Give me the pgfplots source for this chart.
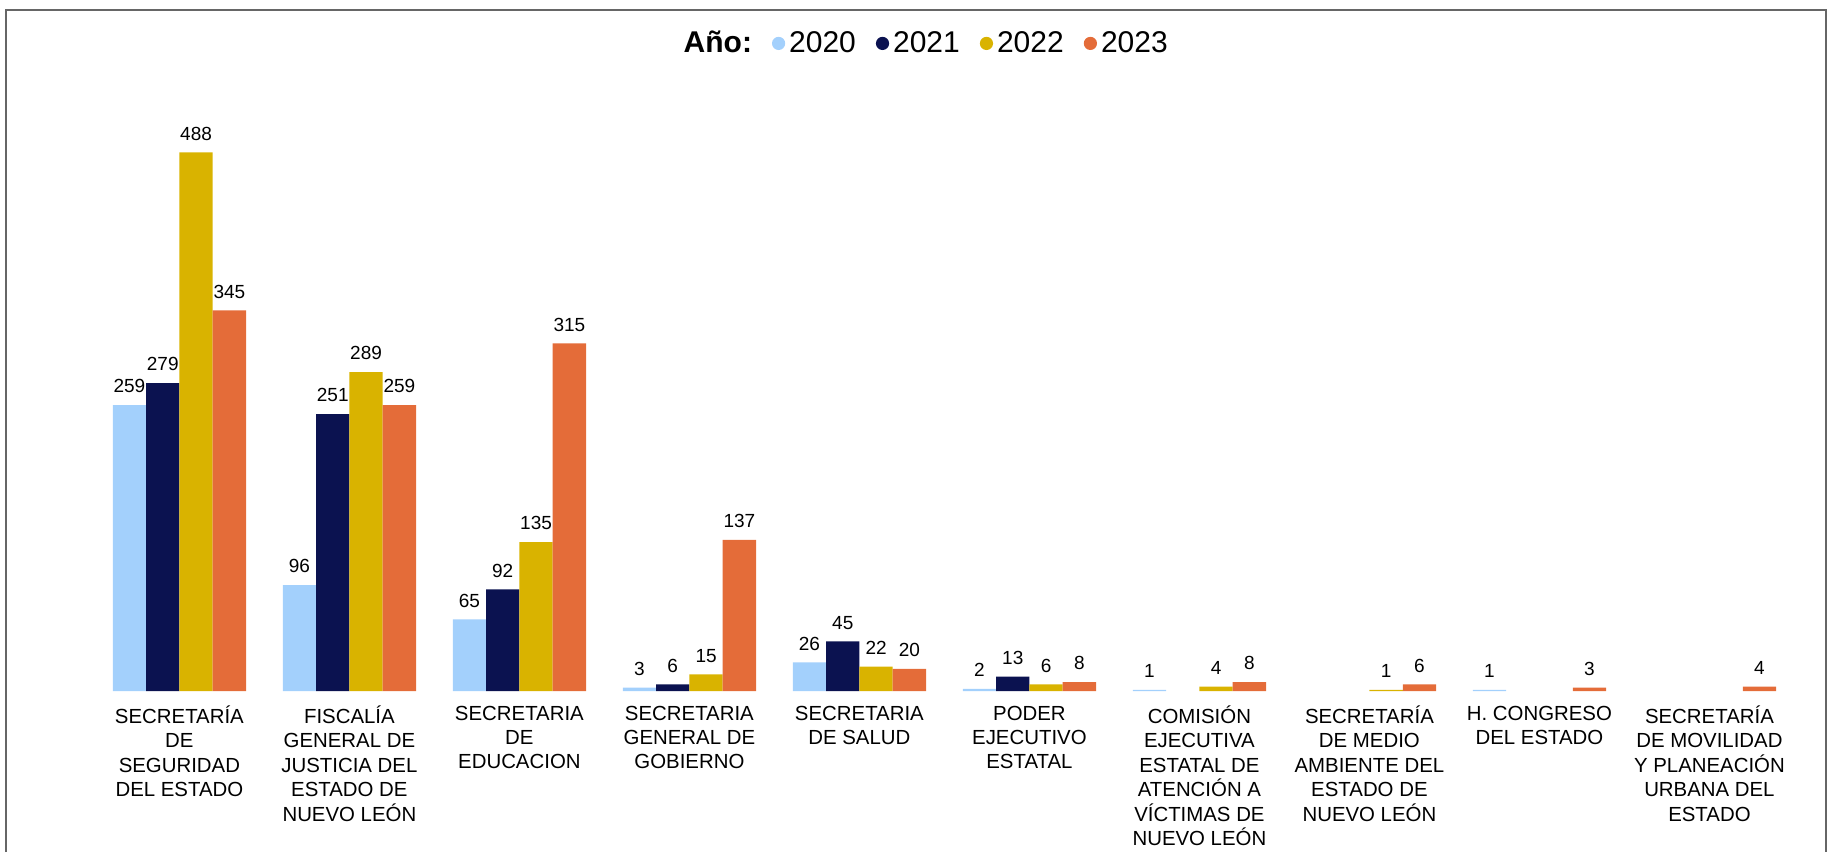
\documentclass[border=0pt]{standalone}
\usepackage{pgfplots}
\pgfplotsset{compat=1.18}
\usepackage{fontspec}
\setmainfont{Liberation Sans}

\definecolor{c2020}{HTML}{A3D0FC}
\definecolor{c2021}{HTML}{0B1250}
\definecolor{c2022}{HTML}{D9B300}
\definecolor{c2023}{HTML}{E46C39}

\pgfplotsset{dotlegend/.style={legend image code/.code={\fill[##1] (0pt,0pt) circle (3.3pt);}}}

\begin{document}
\begin{tikzpicture}
\useasboundingbox (0,0) rectangle (919.5pt,426pt);
\begin{axis}[
  at={(47.2pt,80.5pt)}, anchor=south west,
  scale only axis, width=850pt, height=275.9pt,
  ybar=0pt, bar width=0.196,
  xmin=-0.5, xmax=9.5, ymin=0, ymax=500,
  axis line style={draw=none}, ytick=\empty, xtick={0,...,9}, major tick length=0pt,
  /pgf/number format/assume math mode=true,
  xticklabels={
    {SECRETARÍA\\DE\\SEGURIDAD\\DEL ESTADO},
    {FISCALÍA\\GENERAL DE\\JUSTICIA DEL\\ESTADO DE\\NUEVO LEÓN},
    {SECRETARIA\\DE\\EDUCACION},
    {SECRETARIA\\GENERAL DE\\GOBIERNO},
    {SECRETARIA\\DE SALUD},
    {PODER\\EJECUTIVO\\ESTATAL},
    {COMISIÓN\\EJECUTIVA\\ESTATAL DE\\ATENCIÓN A\\VÍCTIMAS DE\\NUEVO LEÓN},
    {SECRETARÍA\\DE MEDIO\\AMBIENTE DEL\\ESTADO DE\\NUEVO LEÓN},
    {H. CONGRESO\\DEL ESTADO},
    {SECRETARÍA\\DE MOVILIDAD\\Y PLANEACIÓN\\URBANA DEL\\ESTADO}},
  xticklabel style={font=\fontsize{10.2}{12.2}\selectfont, align=center, inner sep=0pt,
    anchor=north, yshift=-7.2pt, execute at begin node={\rule{0pt}{9.6pt}}},
  nodes near coords,
  every node near coord/.append style={font=\fontsize{9.5}{11}\selectfont, inner sep=0pt,
    yshift=5.8pt, text=black},
  legend columns=-1,
  legend style={at={(0.489,1.1736)}, anchor=center, draw=none, fill=none,
    font=\fontsize{15}{18}\selectfont,
    /tikz/every even column/.append style={column sep=8pt}},
  clip=false,
]
\addlegendimage{empty legend}
\addlegendentry{\textbf{Año:}}
% 2020
\addplot[fill=c2020, draw=none, dotlegend] coordinates {
  (0,259) (1,96) (2,65) (3,3) (4,26) (5,2) (6,1) (8,1)};
\addlegendentry{2020}
% 2021
\addplot[fill=c2021, draw=none, dotlegend] coordinates {
  (0,279) (1,251) (2,92) (3,6) (4,45) (5,13)};
\addlegendentry{2021}
% 2022
\addplot[fill=c2022, draw=none, dotlegend] coordinates {
  (0,488) (1,289) (2,135) (3,15) (4,22) (5,6) (6,4) (7,1)};
\addlegendentry{2022}
% 2023
\addplot[fill=c2023, draw=none, dotlegend] coordinates {
  (0,345) (1,259) (2,315) (3,137) (4,20) (5,8) (6,8) (7,6) (8,3) (9,4)};
\addlegendentry{2023}
\end{axis}
\draw[line width=1pt, gray!80!black] (3pt,0) -- (3pt,421pt) -- (913pt,421pt) -- (913pt,0);
\end{tikzpicture}
\end{document}
